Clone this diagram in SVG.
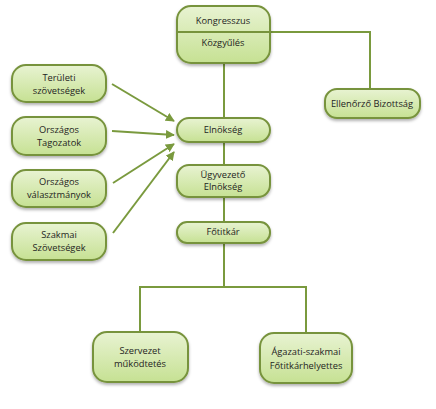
<svg xmlns="http://www.w3.org/2000/svg" width="436" height="409" viewBox="0 0 436 409">
<defs>
<linearGradient id="g" x1="0" y1="0" x2="0" y2="1">
<stop offset="0" stop-color="#e8f3d2"/>
<stop offset="1" stop-color="#c6e193"/>
</linearGradient>
<filter id="sh" x="-20%" y="-20%" width="140%" height="160%">
<feDropShadow dx="0" dy="2" stdDeviation="1.5" flood-color="#000" flood-opacity="0.3"/>
</filter>
<marker id="ah" viewBox="0 0 10 10" refX="9" refY="5" markerWidth="4.5" markerHeight="4.5" orient="auto">
<path d="M0,0 L10,5 L0,10 z" fill="#7a9a3e"/>
</marker>
</defs>
<style>
.box{fill:url(#g);stroke:#77933c;stroke-width:2;filter:url(#sh)}
.t{font-family:"Open Sans","Liberation Sans",sans-serif;font-size:9.3px;fill:#1e1e1e;text-anchor:middle}
.c{stroke:#7a9a3e;stroke-width:2;fill:none}
</style>
<rect width="436" height="409" fill="#fff"/>
<g id="connectors">
<polyline class="c" points="224,32 370,32 370,89"/>
<line class="c" x1="224" y1="64" x2="224" y2="118"/>
<line class="c" x1="224" y1="142" x2="224" y2="165"/>
<line class="c" x1="224" y1="197" x2="224" y2="222"/>
<line class="c" x1="224" y1="243" x2="224" y2="287"/>
<polyline class="c" points="140,332 140,287 306,287 306,333"/>
<line class="c" x1="112" y1="84" x2="174" y2="121" marker-end="url(#ah)"/>
<line class="c" x1="112" y1="131" x2="174" y2="135" marker-end="url(#ah)"/>
<line class="c" x1="113" y1="183" x2="174" y2="144" marker-end="url(#ah)"/>
<line class="c" x1="113" y1="233" x2="174" y2="152" marker-end="url(#ah)"/>
</g>
<g id="kongresszus">
<rect class="box" x="177" y="6" width="93" height="57" rx="14"/>
<line x1="177" y1="32" x2="270" y2="32" stroke="#77933c" stroke-width="2"/>
<text class="t" x="223" y="24">Kongresszus</text>
<text class="t" x="223" y="46">Közgyűlés</text>
</g>
<g id="ellenorzo">
<rect class="box" x="325" y="89" width="95" height="29" rx="12"/>
<text class="t" x="372" y="107">Ellenőrző Bizottság</text>
</g>
<g id="teruleti">
<rect class="box" x="12" y="65" width="94" height="37" rx="14"/>
<text class="t" x="59" y="81">Területi</text>
<text class="t" x="59" y="94">szövetségek</text>
</g>
<g id="tagozatok">
<rect class="box" x="12" y="117" width="94" height="38" rx="14"/>
<text class="t" x="59" y="133">Országos</text>
<text class="t" x="59" y="146">Tagozatok</text>
</g>
<g id="valasztmanyok">
<rect class="box" x="12" y="170" width="94" height="37" rx="14"/>
<text class="t" x="59" y="185">Országos</text>
<text class="t" x="59" y="198">választmányok</text>
</g>
<g id="szakmai">
<rect class="box" x="12" y="223" width="94" height="37" rx="14"/>
<text class="t" x="59" y="238">Szakmai</text>
<text class="t" x="59" y="251">Szövetségek</text>
</g>
<g id="elnokseg">
<rect class="box" x="177" y="118" width="93" height="24" rx="12"/>
<text class="t" x="223" y="133">Elnökség</text>
</g>
<g id="ugyvezeto">
<rect class="box" x="177" y="165" width="93" height="32" rx="12"/>
<text class="t" x="223" y="178">Ügyvezető</text>
<text class="t" x="223" y="190">Elnökség</text>
</g>
<g id="fotitkar">
<rect class="box" x="177" y="222" width="93" height="21" rx="10"/>
<text class="t" x="223" y="235">Főtitkár</text>
</g>
<g id="szervezet">
<rect class="box" x="93" y="332" width="95" height="50" rx="14"/>
<text class="t" x="140" y="354">Szervezet</text>
<text class="t" x="140" y="367">működtetés</text>
</g>
<g id="agazati">
<rect class="box" x="260" y="333" width="92" height="50" rx="14"/>
<text class="t" x="306" y="355">Ágazati-szakmai</text>
<text class="t" x="306" y="369">Főtitkárhelyettes</text>
</g>
</svg>
